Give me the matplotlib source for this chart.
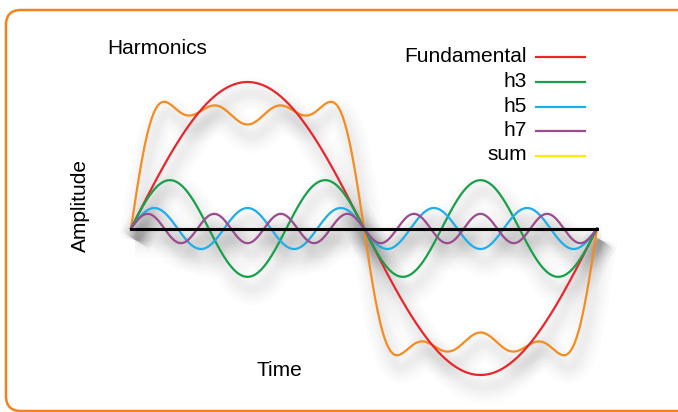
import numpy as np
import matplotlib
matplotlib.use('Agg')
import matplotlib.pyplot as plt
from matplotlib.patches import FancyBboxPatch

# harmonic order and amplitude (relative to fundamental)
labels = ['Fundamental', 'h3', 'h5', 'h7']
orders = [1, 3, 5, 7]
amplitudes = [1.0, 0.33, 0.14, 0.10]
colors = ['#e8262b', '#17a04a', '#1eaee8', '#9b4b8e']
sum_label = 'sum'
sum_color = '#f68b1f'        # curve colour
sum_legend_color = '#ffec00'  # legend swatch is yellow in the original

W, H = 678, 412
plt.rcParams['font.family'] = ['Liberation Sans', 'DejaVu Sans']

fig = plt.figure(figsize=(W / 100, H / 100), dpi=100)

# overlay in pixel units for the frame, texts and legend
over = fig.add_axes([0, 0, 1, 1])
over.set_xlim(0, W)
over.set_ylim(H, 0)
over.axis('off')
over.add_patch(FancyBboxPatch((6, 10), 700, 401,
                              boxstyle='round,pad=0,rounding_size=15',
                              fill=False, edgecolor='#f5821f', linewidth=1.8))

# axes mapped so that x in [0, 2pi] spans the drawn axis line
x0, x1 = 131, 597
y_top, y_bot = 82, 375
ax = fig.add_axes([x0 / W, (H - y_bot) / H, (x1 - x0) / W, (y_bot - y_top) / H])
ax.set_xlim(0, 2 * np.pi)
ax.set_ylim(-1, 1)
ax.axis('off')

t = np.linspace(0, 2 * np.pi, 800)
curves = [a * np.sin(n * t) for n, a in zip(orders, amplitudes)]
total = np.sum(curves, axis=0)

# soft grey drop shadow under every curve
dx, dy = 0.06, 0.08
for lw in [24, 19, 15, 11, 8, 5]:
    for c in curves + [total, np.zeros_like(t)]:
        ax.plot(t + dx, c - dy, color='#000000', alpha=0.011, linewidth=lw,
                solid_capstyle='butt', clip_on=False, zorder=1)

ax.plot(t, total, color=sum_color, linewidth=1.6, clip_on=False, zorder=3)
for c, col in zip(curves, colors):
    ax.plot(t, c, color=col, linewidth=1.6, clip_on=False, zorder=3)
ax.plot([0, 2 * np.pi], [0, 0], color='black', linewidth=2.2,
        clip_on=False, zorder=4)

# texts
over.text(157, 48, 'Harmonics', fontsize=15, ha='center', va='center')
over.text(80, 205, 'Amplitude', fontsize=15, ha='center', va='center',
          rotation=90)
over.text(279, 370, 'Time', fontsize=15, ha='center', va='center')

# legend, drawn by hand to match the layout
leg_y = [56, 81, 106, 130, 155]
for name, col, yy in zip(labels + [sum_label], colors + [sum_legend_color], leg_y):
    over.text(527, yy, name, fontsize=15, ha='right', va='center')
    over.plot([536, 585], [yy + 1, yy + 1], color=col, linewidth=1.6)

fig.savefig('out.png', dpi=100)
